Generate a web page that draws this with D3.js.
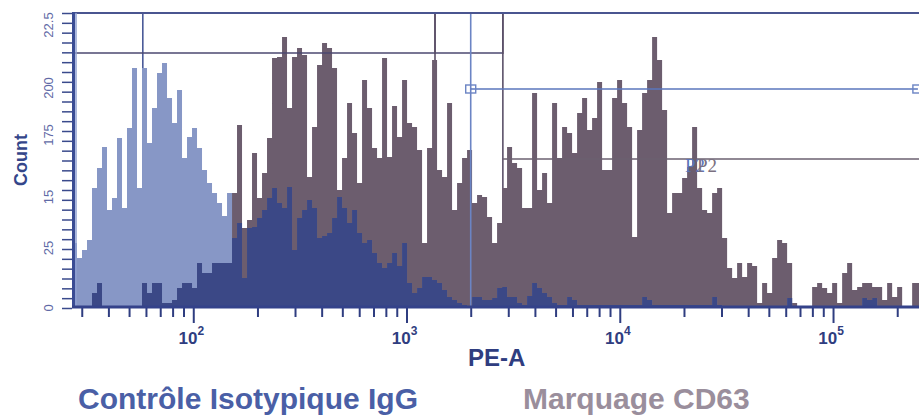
<!DOCTYPE html>
<html>
<head>
<meta charset="utf-8">
<script src="https://cdn.jsdelivr.net/npm/d3@7"></script>
<style>
  body { margin: 0; background: #fff; }
  svg { display: block; font-family: "Liberation Sans", Arial, sans-serif; }
</style>
</head>
<body>
<svg width="919" height="416"></svg>
<script>
// histogram counts per log bin (bins start at 27, 0.02345 decade wide)
var isotype = [
  65, 50, 58, 68,120,140,161, 98,110,170,
 100,180,240,120,240,165,200,235,245,210,
 185,218,150,171,180,160,138,125,115,105,
  92,115, 70, 85, 30, 80, 81, 90, 98,110,
 120,105,100,121, 58, 90, 98,108,100, 70,
  72, 75, 90,111,100, 85, 98, 75, 65, 68,
  55, 45, 40, 45, 55, 42, 65, 25, 15, 20,
  31, 31, 28, 25, 18, 11,  8,  5,  3,  2,
  11, 11,  8,  8, 10, 20, 21, 11, 11,  5,
   3, 12, 25, 20, 15, 11,  5,  3,  3, 11,
   8,  3,  3,  3,  3,  3,  3,  3,  3,  3,
   3,  3,  3,  3, 11,  8,  3,  3,  3,  3,
   3,  3,  3,  3,  3,  3,  3,  3, 11,  3,
   0,  0,  0,  0,  0,  0,  0,  0,  0,  0,
   0,  0,  0, 10,  0,  0,  0,  0,  0,  0,
   0,  0,  0,  0,  0,  0,  0,  0, 10,  8,
  10,  0,  0,  0,  0,  0,  0,  0,  0,  0
];
var cd63 = [
   0,  0,  0,  0, 15, 25,  0,  0,  0,  0,
   0,  0,  0,  0, 25, 15, 25, 25,  5,  5,
   8, 20, 25, 25, 20, 45, 35, 35, 45, 45,
  45, 45,115,183, 80, 88,155,110,135,170,
 250,251,271,200,251,260,253,131,181,243,
 265,260,240,118,150,205,175,125,228,200,
 160,150,250,151,202,171,228,185,181,158,
  65,160,248,138,131,205, 98,125,150,158,
 105,113,111, 91, 65, 85,120,161,145,140,
 100,100,215,118,135,105,205,150,181,175,
 155,195,210,178,190,226,138,138,210,228,
 205,181, 71,178,215,228,271,248,198, 95,
 115,115,130,141,181,120, 98, 95,115,120,
  70, 40, 30, 45, 31, 45, 42,  5, 25, 15,
  50, 68, 65, 45,  5,  0,  0,  0, 21, 25,
  20, 15, 25,  5, 35, 45, 18, 21, 25, 25,
  21, 21,  8, 25, 11, 21,  1,  1, 25, 25
];
var binStart = 27, binStep = 0.02345;

// axis ticks
var xMajor = [1e2, 1e3, 1e4, 1e5];
var xMajorExp = ["2", "3", "4", "5"];
var yLabelValues = [0, 60, 111, 173, 220, 283];
var yLabelText = ["0", "25", "15", "175", "200", "22.5"];

// gates
var gateV = [58, 1360, 2830];
var gateVColor = ["#4a5a98", "#5b5068", "#5b5068"];
var gateBlueX = 2000;
var gateTop = { x0: 27, x1: 2830, y: 255 };
var gateBlue = { x0: 2000, x1: 250000, y: 219 };
var gateP2 = { x0: 2830, x1: 253000, y: 149 };
var p2Label = [{ x: 20200, t: "P2", c: "#5a73b8" }, { x: 23000, t: "P2", c: "#7a7080" }];

var svg = d3.select("svg");
var plotL = 72, plotR = 919, plotT = 13, plotB = 308;

var x = d3.scaleLog().domain([27, 253000]).range([plotL, plotR]);
var y = d3.scaleLinear().domain([0, 295]).range([plotB, plotT]);

svg.append("defs").append("clipPath").attr("id", "plot")
  .append("rect").attr("x", plotL).attr("y", plotT - 2).attr("width", plotR - plotL).attr("height", plotB - plotT + 2);

function bins(vals) {
  var out = vals.map(function(v, i) { return { x0: binStart * Math.pow(10, i * binStep), v: v }; });
  out.push({ x0: binStart * Math.pow(10, vals.length * binStep), v: vals[vals.length - 1] });
  return out;
}
var area = d3.area().curve(d3.curveStepAfter)
  .x(function(d) { return x(d.x0); })
  .y0(y(0))
  .y1(function(d) { return y(d.v); });

var plot = svg.append("g").attr("clip-path", "url(#plot)");

// gate behind histograms
plot.selectAll(".gv").data(gateV).enter().append("line")
  .attr("x1", function(d) { return x(d); }).attr("x2", function(d) { return x(d); })
  .attr("y1", plotT).attr("y2", plotB)
  .attr("stroke", function(d, i) { return gateVColor[i]; })
  .attr("stroke-width", 1.6);

plot.append("path").datum(bins(cd63)).attr("d", area).attr("fill", "#6c5d6e");
plot.append("path").datum(bins(isotype)).attr("d", area).attr("fill", "#8797c6");
var overlap = isotype.map(function(v, i) { return Math.min(v, cd63[i]); });
plot.append("path").datum(bins(overlap)).attr("d", area).attr("fill", "#3b4886");

// horizontal gates
function hline(g, color) {
  plot.append("line")
    .attr("x1", x(g.x0)).attr("x2", x(g.x1))
    .attr("y1", y(g.y)).attr("y2", y(g.y))
    .attr("stroke", color).attr("stroke-width", 1.6);
}
hline(gateTop, "#4b4870");
hline(gateP2, "#6b6070");
plot.selectAll(".gv2").data(gateV.slice(1)).enter().append("line")
  .attr("x1", function(d) { return x(d); }).attr("x2", function(d) { return x(d); })
  .attr("y1", plotT).attr("y2", y(gateTop.y) + 1)
  .attr("stroke", "#5b5068").attr("stroke-width", 1.6);
plot.append("line")
  .attr("x1", x(gateBlueX)).attr("x2", x(gateBlueX))
  .attr("y1", plotT).attr("y2", plotB)
  .attr("stroke", "#6b84c4").attr("stroke-width", 1.6);
hline(gateBlue, "#5a76bd");
plot.selectAll(".sq").data([gateBlue.x0, gateBlue.x1]).enter().append("rect")
  .attr("x", function(d) { return x(d) - 5; })
  .attr("y", y(gateBlue.y) - 4)
  .attr("width", 10).attr("height", 8)
  .attr("fill", "none").attr("stroke", "#6b84c4").attr("stroke-width", 1.4);

svg.selectAll(".p2").data(p2Label).enter().append("text")
  .attr("x", function(d) { return x(d.x); })
  .attr("y", y(136))
  .attr("fill", function(d) { return d.c; })
  .style("font-family", "'Liberation Serif', serif")
  .style("font-size", "19px")
  .text(function(d) { return d.t; });

// frame top
svg.append("line").attr("x1", plotL).attr("x2", plotR).attr("y1", plotT).attr("y2", plotT)
  .attr("stroke", "#4a5590").attr("stroke-width", 2);

// y axis
var yTicks = d3.range(31).map(function(i) { return i * 295 / 30; });
svg.append("g")
  .attr("transform", "translate(" + plotL + ",0)")
  .call(d3.axisLeft(y).tickValues(yTicks).tickSize(10).tickFormat(""))
  .call(function(g) {
    g.select(".domain").remove();
    g.selectAll("line").attr("stroke", "#3a4a8c").attr("stroke-width", 1.5);
  });
svg.append("line").attr("x1", plotL + 1.5).attr("x2", plotL + 1.5).attr("y1", plotT - 1).attr("y2", plotB)
  .attr("stroke", "#3a4c94").attr("stroke-width", 3);
svg.append("line").attr("x1", plotL + 4).attr("x2", plotL + 4).attr("y1", plotT).attr("y2", plotB)
  .attr("stroke", "#8fa0d2").attr("stroke-width", 1.5);

svg.selectAll(".ylab").data(yLabelValues).enter().append("text")
  .attr("transform", function(d) { return "translate(53," + y(d) + ") rotate(-90)"; })
  .attr("text-anchor", "middle")
  .attr("fill", "#5f6aa6")
  .style("font-size", "13px")
  .text(function(d, i) { return yLabelText[i]; });

svg.append("text")
  .attr("transform", "translate(27,160) rotate(-90)")
  .attr("text-anchor", "middle")
  .attr("fill", "#34468a")
  .style("font-size", "18px")
  .style("font-weight", "bold")
  .text("Count");

// x axis
var xMinor = [];
[10, 100, 1000, 10000, 100000].forEach(function(dec) {
  d3.range(2, 10).forEach(function(m) {
    if (dec * m > 27 && dec * m < 253000) xMinor.push(dec * m);
  });
});
svg.append("g")
  .attr("transform", "translate(0," + plotB + ")")
  .call(d3.axisBottom(x).tickValues(xMinor).tickSize(9).tickFormat(""))
  .call(function(g) {
    g.select(".domain").remove();
    g.selectAll("line").attr("stroke", "#2f3d80").attr("stroke-width", 2);
  });
svg.append("g")
  .attr("transform", "translate(0," + plotB + ")")
  .call(d3.axisBottom(x).tickValues(xMajor).tickSize(15).tickFormat(""))
  .call(function(g) {
    g.select(".domain").remove();
    g.selectAll("line").attr("stroke", "#2f3d80").attr("stroke-width", 2);
  });
svg.append("line").attr("x1", plotL).attr("x2", plotR).attr("y1", plotB - 1).attr("y2", plotB - 1)
  .attr("stroke", "#34428a").attr("stroke-width", 3);

var xl = svg.selectAll(".xlab").data(xMajor).enter().append("text")
  .attr("x", function(d) { return x(d) - 2; })
  .attr("y", 344)
  .attr("text-anchor", "middle")
  .attr("fill", "#2f3d80")
  .style("font-size", "17px")
  .style("font-weight", "bold");
xl.append("tspan").text("10");
xl.append("tspan").attr("dy", -9).style("font-size", "12px").text(function(d, i) { return xMajorExp[i]; });

svg.append("text")
  .attr("x", 468).attr("y", 366)
  .attr("fill", "#2f3d80")
  .style("font-size", "24px")
  .style("font-weight", "bold")
  .text("PE-A");

// legend
svg.append("text")
  .attr("x", 78).attr("y", 409)
  .attr("fill", "#4a5fa6")
  .style("font-size", "30px")
  .style("font-weight", "bold")
  .text("Contrôle Isotypique IgG");
svg.append("text")
  .attr("x", 523).attr("y", 409)
  .attr("fill", "#9a8e9c")
  .style("font-size", "30px")
  .style("font-weight", "bold")
  .text("Marquage CD63");
</script>
</body>
</html>
